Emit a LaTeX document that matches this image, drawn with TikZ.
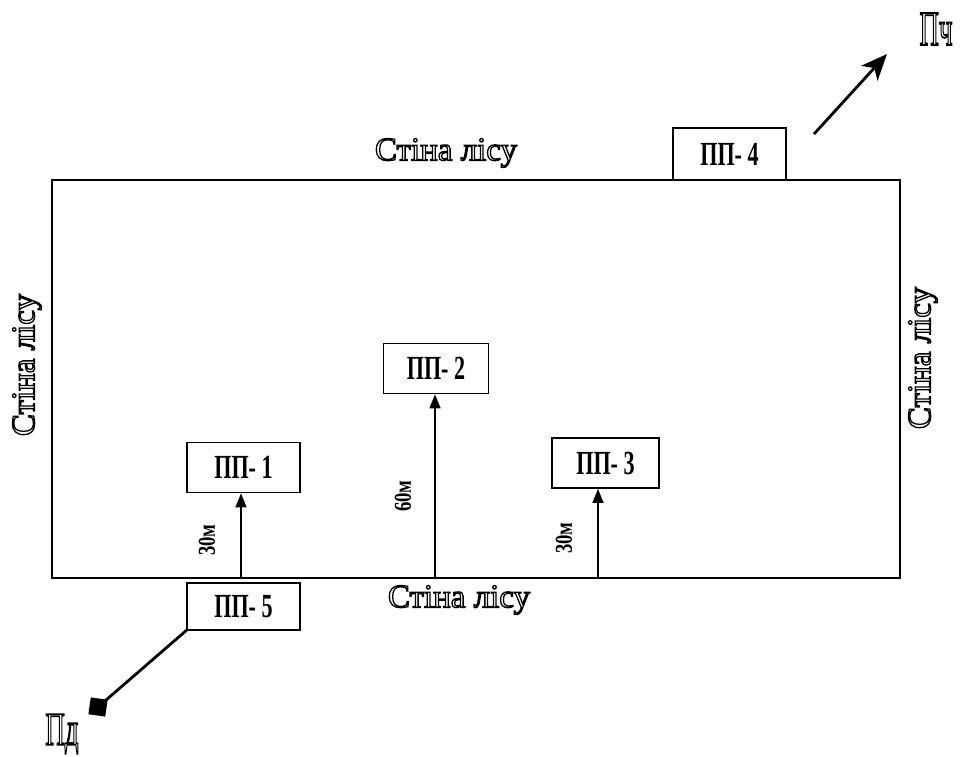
\documentclass[tikz,border=0pt]{standalone}
\usepackage{fontspec}
\setmainfont{Liberation Serif}
\usetikzlibrary{arrows.meta}
\newcommand{\hollow}[1]{\special{pdf:literal direct 1 Tr 1.3 w}#1\special{pdf:literal direct 0 Tr}}
\tikzset{
  ppbox/.style={draw, line width=1.8pt, fill=white, inner sep=0pt,
    minimum width=113pt, minimum height=50pt,
    font=\bfseries\fontsize{27}{27}\selectfont},
  uparr/.style={line width=1.6pt, -{Triangle[length=14pt,width=11pt]}},
  wall/.style={font=\fontsize{33}{33}\selectfont, inner sep=0pt},
  dist/.style={font=\bfseries\fontsize{22}{22}\selectfont, rotate=90, inner sep=0pt},
  bigletter/.style={font=\fontsize{36}{36}\selectfont, inner sep=0pt}
}
\newcommand{\pplabel}[1]{\scalebox{0.82}[1.25]{#1}}
\begin{document}
\begin{tikzpicture}[x=1pt,y=-1pt]
\useasboundingbox (0,0) rectangle (961,756);
% field
\coordinate (tl) at (52,180);
\coordinate (br) at (900,578);
\draw[line width=2pt] (tl) rectangle (br);
% boxes
\node[ppbox] (p1) at (243.5,467.5) {\pplabel{ПП- 1}};
\node[ppbox, minimum width=105pt] (p2) at (436,368.5) {\pplabel{ПП- 2}};
\node[ppbox, minimum width=107pt] (p3) at (605.5,463) {\pplabel{ПП- 3}};
\node[ppbox, minimum height=52pt] (p4) at (729.5,154) {\pplabel{ПП- 4}};
\node[ppbox, minimum height=47pt] (p5) at (243.5,606.5) {\pplabel{ПП- 5}};
% arrows from the forest edge
\coordinate (b1) at (241,578);
\coordinate (b2) at (435,578);
\coordinate (b3) at (598,578);
\draw[uparr] (b1) -- (b1 |- p1.south);
\draw[uparr] (b2) -- (b2 |- p2.south);
\draw[uparr] (b3) -- (b3 |- p3.south);
\node[dist] (d1) at (207,540) {\scalebox{0.85}[1.1]{30м}};
\node[dist] (d2) at (403,496) {\scalebox{0.85}[1.1]{60м}};
\node[dist] (d3) at (564,538) {\scalebox{0.85}[1.1]{30м}};
% wall labels
\node[wall] (wt) at (446,153) {\hollow{Стіна лісу}};
\node[wall] (wb) at (459,600) {\hollow{Стіна лісу}};
\node[wall, rotate=90] (wl) at (27,365) {\hollow{Стіна лісу}};
\node[wall, rotate=90] (wr) at (923,358) {\hollow{Стіна лісу}};
% exit arrow
\coordinate (a0) at (814,134);
\coordinate (a1) at (887,54);
\draw[line width=2.8pt, -{Stealth[length=26pt,width=22pt,inset=7pt]}] (a0) -- (a1);
\node[bigletter] (pch) at (936,29) {\scalebox{0.75}[1.35]{\hollow{Пч}}};
% entry
\node[fill=black, minimum size=17pt, inner sep=0pt, rotate=-8] (sq) at (98,707) {};
\draw[line width=2.8pt] (p5.south west) ++(2,-2) coordinate (e5) (e5) -- (sq.center);
\node[bigletter, anchor=south] (pd) at (62,754) {\scalebox{0.75}[1.3]{\hollow{Пд}}};
\end{tikzpicture}
\end{document}
